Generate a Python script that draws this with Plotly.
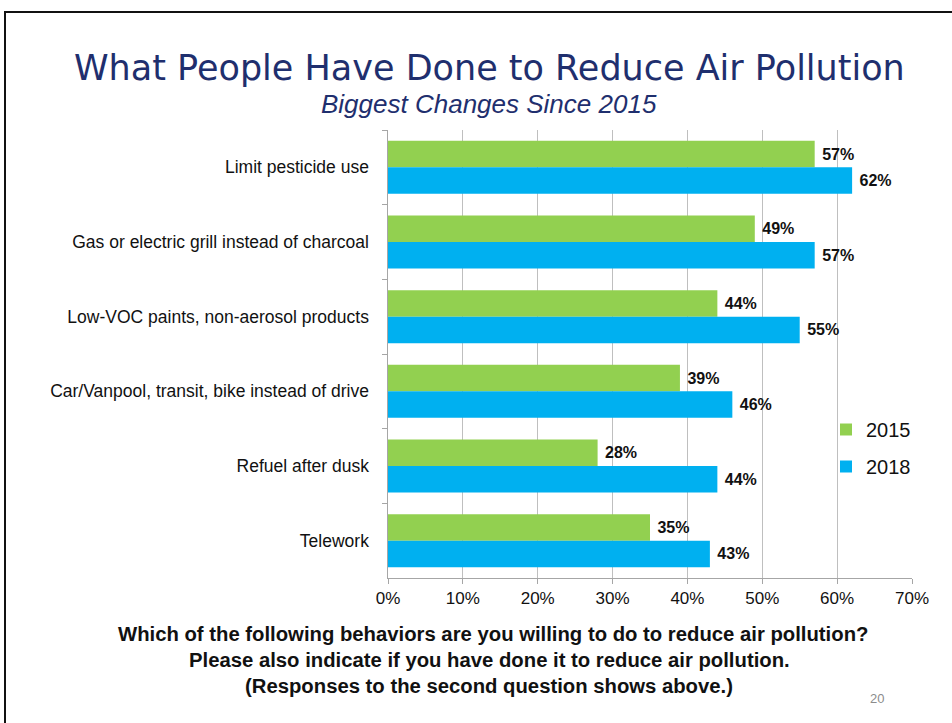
import plotly.graph_objects as go

categories = [
    "Limit pesticide use",
    "Gas or electric grill instead of charcoal",
    "Low-VOC paints, non-aerosol products",
    "Car/Vanpool, transit, bike instead of drive",
    "Refuel after dusk",
    "Telework",
]
values_2015 = [57, 49, 44, 39, 28, 35]
values_2018 = [62, 57, 55, 46, 44, 43]
x_ticks = [0, 10, 20, 30, 40, 50, 60, 70]

GREEN = "#92D050"
BLUE = "#00B0F0"
NAVY = "#1F2F6E"

fig = go.Figure()
for name, vals, color in [("2015", values_2015, GREEN), ("2018", values_2018, BLUE)]:
    fig.add_trace(go.Bar(
        y=categories, x=vals, name=name, orientation="h", legendgroup=name,
        marker=dict(color=color, line=dict(width=0)),
        text=[f" {v}%" for v in vals], textposition="outside",
        textfont=dict(family="Liberation Sans", size=16, color="#111111", weight="bold"),
        cliponaxis=False,
    ))

L, R, T, B = 388, 40, 130, 145
W, H = 952, 723
pw, ph = W - L - R, H - T - B


def px(x):
    return (x - L) / pw


def py(y):
    return (H - B - y) / ph


fig.update_layout(
    width=W, height=H,
    margin=dict(l=L, r=R, t=T, b=B),
    paper_bgcolor="white", plot_bgcolor="white",
    barmode="group", bargap=0.29, bargroupgap=0,
    font=dict(family="Liberation Sans", color="#111111"),
    showlegend=True,
    legend=dict(
        x=px(826), y=py(410), xanchor="left", yanchor="top",
        font=dict(size=20, family="Liberation Sans", color="#111111"),
        bgcolor="rgba(255,255,255,0)", itemwidth=30,
        traceorder="grouped", tracegroupgap=8,
    ),
    xaxis=dict(
        range=[0, 70], tickvals=x_ticks, ticktext=[f"{t}%" for t in x_ticks],
        showgrid=True, gridcolor="#BFBFBF", gridwidth=1,
        showline=True, linecolor="#A6A6A6", linewidth=1,
        ticks="outside", ticklen=5, tickcolor="#A6A6A6",
        tickfont=dict(size=17, color="#111111"), zeroline=False,
    ),
    yaxis=dict(
        autorange="reversed", showline=True, linecolor="#A6A6A6", linewidth=1,
        ticks="outside", ticklen=5, tickcolor="#A6A6A6", tickson="boundaries",
        tickfont=dict(size=17.5, color="#111111"), showgrid=False, ticksuffix="   ",
    ),
)

annotations = [
    dict(text="What People Have Done to Reduce Air Pollution", x=px(489), y=py(68),
         font=dict(family="DejaVu Sans", size=35, color=NAVY)),
    dict(text="<i>Biggest Changes Since 2015</i>", x=px(489), y=py(104),
         font=dict(family="Liberation Sans", size=26, color=NAVY)),
    dict(text="<b>Which of the following behaviors are you willing to do to reduce air pollution?</b>",
         x=px(493), y=py(634), font=dict(family="Liberation Sans", size=20.3, color="#111111")),
    dict(text="<b>Please also indicate if you have done it to reduce air pollution.</b>",
         x=px(489), y=py(660), font=dict(family="Liberation Sans", size=20.3, color="#111111")),
    dict(text="<b>(Responses to the second question shows above.)</b>",
         x=px(489), y=py(686), font=dict(family="Liberation Sans", size=20.3, color="#111111")),
    dict(text="20", x=px(877), y=py(698),
         font=dict(family="Liberation Sans", size=13, color="#8C8C8C")),
]
for a in annotations:
    a.update(xref="paper", yref="paper", showarrow=False, xanchor="center", yanchor="middle")
    fig.add_annotation(**a)

# slide frame
fig.add_shape(type="rect", xref="paper", yref="paper",
              x0=px(5), x1=px(960), y0=py(740), y1=py(12),
              line=dict(color="#111111", width=2), fillcolor="rgba(0,0,0,0)", layer="above")

fig.write_html("out.html")
